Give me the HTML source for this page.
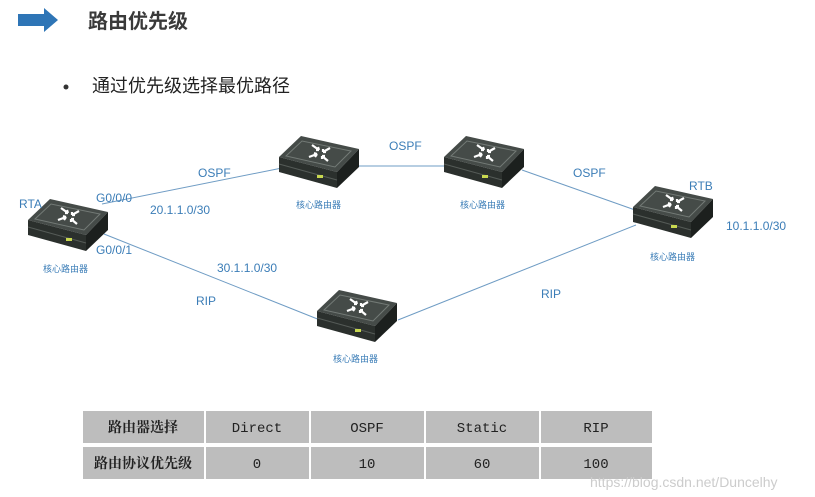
<!DOCTYPE html>
<html><head><meta charset="utf-8"><style>
body{margin:0;width:815px;height:497px;background:#fff;overflow:hidden;font-family:"Liberation Sans","Noto Sans CJK SC",sans-serif;}
</style></head><body>
<svg width="815" height="497" xmlns="http://www.w3.org/2000/svg" style="position:absolute;left:0;top:0">
<defs>
<g id="r">
<polygon points="0,21 22,0 80,13 58,36" fill="#454b48"/>
<polygon points="7,20 23,5 72,15 56,31" fill="none" stroke="#737a76" stroke-width="1"/>
<polygon points="0,21 58,36 58,52 0,36" fill="#2b302d"/>
<polygon points="58,36 80,13 80,31 58,52" fill="#1c201e"/>
<line x1="0" y1="28" x2="58" y2="44" stroke="#555b57" stroke-width="1"/>
<rect x="38" y="39" width="6" height="3" fill="#c8d850"/>
<g stroke="#fff" stroke-width="2.2" fill="none">
<path d="M33,9 l7,5 M40,14 l-3,0 M40,14 l-1,-3"/>
<path d="M51,12 l-7,4 M44,16 l3,0 M44,16 l0,-3"/>
<path d="M30,21 l8,-3 M38,18 l-3,-1 M38,18 l-2,3"/>
<path d="M49,25 l-6,-5 M43,20 l3,0 M43,20 l0,3"/>
</g>
</g>
</defs>
<polygon points="18,14 44,14 44,8 58,20 44,32 44,26 18,26" fill="#2e75b6"/>
<text x="88" y="28" font-size="20" font-weight="bold" fill="#3a3a3a">路由优先级</text>
<circle cx="66" cy="87" r="2.5" fill="#333"/>
<text x="92" y="92" font-size="18" fill="#222">通过优先级选择最优路径</text>
<g stroke="#6f9cc4" stroke-width="1" fill="none">
<line x1="102" y1="204" x2="282" y2="168"/>
<line x1="358" y1="166" x2="447" y2="166"/>
<line x1="522" y1="170" x2="638" y2="211"/>
<line x1="104" y1="234" x2="320" y2="320"/>
<line x1="398" y1="320" x2="636" y2="225"/>
</g>
<use href="#r" x="28" y="199"/>
<use href="#r" x="279" y="136"/>
<use href="#r" x="444" y="136"/>
<use href="#r" x="633" y="186"/>
<use href="#r" x="317" y="290"/>
<g font-size="12" fill="#3b7db7">
<text x="198" y="177">OSPF</text>
<text x="389" y="150">OSPF</text>
<text x="573" y="177">OSPF</text>
<text x="19" y="208">RTA</text>
<text x="96" y="202">G0/0/0</text>
<text x="150" y="214">20.1.1.0/30</text>
<text x="96" y="254">G0/0/1</text>
<text x="217" y="272">30.1.1.0/30</text>
<text x="196" y="305">RIP</text>
<text x="541" y="298">RIP</text>
<text x="689" y="190">RTB</text>
<text x="726" y="230">10.1.1.0/30</text>
</g>
<g font-size="9" fill="#3b7db7">
<text x="43" y="272">核心路由器</text>
<text x="296" y="208">核心路由器</text>
<text x="460" y="208">核心路由器</text>
<text x="650" y="260">核心路由器</text>
<text x="333" y="362">核心路由器</text>
</g>
<g fill="#bdbdbd" stroke="#fff" stroke-width="2">
<rect x="82" y="410" width="123" height="34"/><rect x="205" y="410" width="105" height="34"/><rect x="310" y="410" width="115" height="34"/><rect x="425" y="410" width="115" height="34"/><rect x="540" y="410" width="113" height="34"/>
<rect x="82" y="446" width="123" height="34"/><rect x="205" y="446" width="105" height="34"/><rect x="310" y="446" width="115" height="34"/><rect x="425" y="446" width="115" height="34"/><rect x="540" y="446" width="113" height="34"/>
</g>
<g font-size="14" fill="#222" text-anchor="middle" font-family="Liberation Mono,'Noto Serif CJK SC',monospace">
<text x="143" y="432" font-weight="bold">路由器选择</text>
<text x="257" y="432">Direct</text><text x="367" y="432">OSPF</text><text x="482" y="432">Static</text><text x="596" y="432">RIP</text>
<text x="143" y="468" font-weight="bold">路由协议优先级</text>
<text x="257" y="468">0</text><text x="367" y="468">10</text><text x="482" y="468">60</text><text x="596" y="468">100</text>
</g>
<text x="590" y="487" font-size="14" fill="#ccc">https://blog.csdn.net/Duncelhy</text>
</svg>
</body></html>
